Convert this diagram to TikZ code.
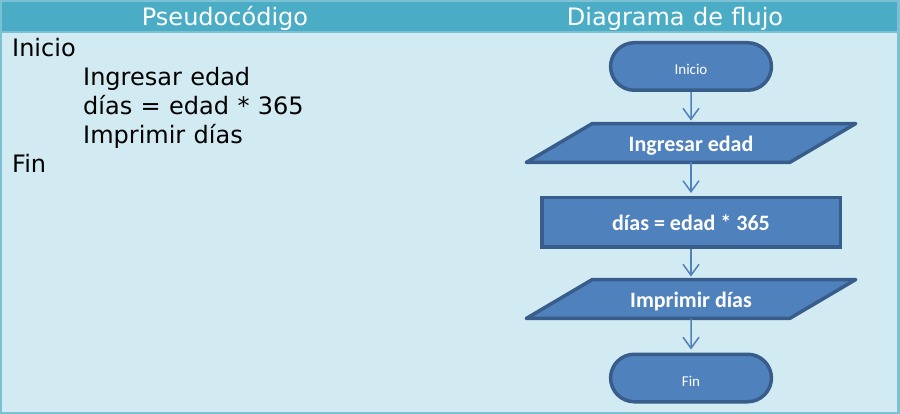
\documentclass[tikz,border=0pt]{standalone}
\usepackage{fontspec}
\setmainfont{DejaVu Sans}[WordSpace=1.1]
\newfontfamily\flowfont{Carlito}
\usepackage{xcolor}
\usepackage{tikz}
\usetikzlibrary{arrows.meta, shapes.misc}

\definecolor{frameblue}{HTML}{7CC1D3}
\definecolor{headblue}{HTML}{4BACC6}
\definecolor{paneblue}{HTML}{D2EAF1}
\definecolor{shapeblue}{HTML}{4F81BD}
\definecolor{edgeblue}{HTML}{385D8A}

\begin{document}
\begin{tikzpicture}[
        x=1pt, y=-1pt,
        terminal/.style={rounded rectangle, draw=edgeblue, fill=shapeblue, line width=3.5pt,
            minimum width=167.5pt, minimum height=47.5pt, text=white,
            text height=16pt, text depth=0pt,
            font=\flowfont\fontsize{15}{18}\selectfont},
        iobox/.style={rectangle, minimum width=263pt, minimum height=38.5pt, text=white,
            font=\flowfont\bfseries\fontsize{22}{26}\selectfont},
        ioshape/.style={draw=edgeblue, fill=shapeblue, line width=3.5pt, line join=round},
        process/.style={rectangle, draw=edgeblue, fill=shapeblue, line width=3.5pt,
            minimum width=298.5pt, minimum height=49.5pt, text=white,
            font=\flowfont\bfseries\fontsize{22}{26}\selectfont},
        code/.style={anchor=base west, inner sep=0pt, font=\fontsize{24}{29}\selectfont},
        title/.style={anchor=base, inner sep=0pt, text=white, font=\fontsize{24}{29}\selectfont},
        flow/.style={draw=shapeblue, line width=1.5pt, shorten >=3pt,
            -{Straight Barb[length=11pt, width=16pt]}}
    ]

    % Table
    \fill[frameblue] (0,0) rectangle (900,414);
    \fill[paneblue] (2,33) rectangle (897,411.5);
    \fill[headblue] (2,2) rectangle (897,31);
    \node[title] (pseudo) at (225,26) {Pseudocódigo};
    \node[title] (diagram) at (675,26) {Diagrama de flujo};

    % Pseudocode
    \node[code] (l1) at (12,57) {Inicio};
    \node[code] (l2) at (83,86) {Ingresar edad};
    \node[code] (l3) at (83,115) {días = edad * 365};
    \node[code] (l4) at (83,144) {Imprimir días};
    \node[code] (l5) at (12,173) {Fin};

    % Flowchart
    \node[terminal] (start) at (691,66.5) {Inicio};
    \node[iobox] (input) at (691,143) {};
    \node[process] (calc) at (691,222.5) {días = edad * 365};
    \node[iobox] (output) at (691,299) {};
    \node[terminal] (stop) at (691,378) {Fin};
    \foreach \n in {input, output}
        \draw[ioshape] ([xshift=-33pt]\n.south west) -- ([xshift=33pt]\n.north west)
            -- ([xshift=33pt]\n.north east) -- ([xshift=-33pt]\n.south east) -- cycle;
    \node[iobox, yshift=-2.5pt] (inputtext) at (input) {Ingresar edad};
    \node[iobox, yshift=-2.5pt] (outputtext) at (output) {Imprimir días};
    \draw[flow] (start) -- (input);
    \draw[flow] (input) -- (calc);
    \draw[flow] (calc) -- (output);
    \draw[flow] (output) -- (stop);

\end{tikzpicture}
\end{document}
